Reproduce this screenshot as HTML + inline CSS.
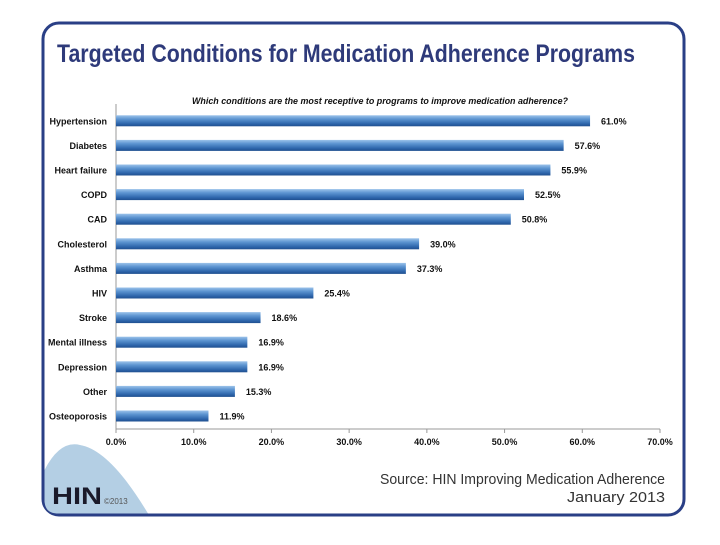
<!DOCTYPE html>
<html><head><meta charset="utf-8"><style>
body{margin:0;background:#fff;width:720px;height:540px;overflow:hidden;font-family:"Liberation Sans",sans-serif}
</style></head><body>
<svg width="720" height="540">
<defs>
<linearGradient id="bg" x1="0" y1="0" x2="0" y2="1">
<stop offset="0" stop-color="#9cc3ea"/><stop offset="0.35" stop-color="#5b93d0"/><stop offset="0.75" stop-color="#2f67ad"/><stop offset="1" stop-color="#1f4f8f"/>
</linearGradient>
</defs>
<rect x="43" y="23" width="641" height="492" rx="16" fill="#fff" stroke="#2a3f86" stroke-width="3"/>
<path d="M44.5,470 Q60,440 80,445 Q110,450 148,513.5 L58,513.5 Q44.5,513.5 44.5,500 Z" fill="#b4cfe4"/>
<text x="52" y="504" font-size="24" font-weight="bold" fill="#1a1a2a" textLength="50" lengthAdjust="spacingAndGlyphs">HIN</text>
<text x="104" y="504" font-size="8" fill="#555">©2013</text>
<text x="57" y="62" font-size="25" font-weight="bold" fill="#2e3a7a" textLength="578" lengthAdjust="spacingAndGlyphs">Targeted Conditions for Medication Adherence Programs</text>
<text x="380" y="104" font-size="9" font-weight="bold" font-style="italic" text-anchor="middle" fill="#111" textLength="376" lengthAdjust="spacingAndGlyphs">Which conditions are the most receptive to programs to improve medication adherence?</text>
<text x="665" y="484" font-size="15" fill="#333" text-anchor="end" textLength="285" lengthAdjust="spacingAndGlyphs">Source: HIN Improving Medication Adherence</text>
<text x="665" y="502" font-size="15" fill="#333" text-anchor="end" textLength="98" lengthAdjust="spacingAndGlyphs">January 2013</text>
<g id="plot"></g>
</svg>
<script>
const categories=["Hypertension","Diabetes","Heart failure","COPD","CAD","Cholesterol","Asthma","HIV","Stroke","Mental illness","Depression","Other","Osteoporosis"];
const values=[61.0,57.6,55.9,52.5,50.8,39.0,37.3,25.4,18.6,16.9,16.9,15.3,11.9];
const ticks=[0,10,20,30,40,50,60,70];
const ns="http://www.w3.org/2000/svg";
const g=document.getElementById('plot');
const x0=116,x1=660,xmax=70,yTop=109,rowH=24.6,axisY=429;
const xs=v=>x0+(x1-x0)*v/xmax;
const yc=i=>yTop+rowH*(i+0.5);
function mk(t,a){const e=document.createElementNS(ns,t);for(const k in a)e.setAttribute(k,a[k]);g.appendChild(e);return e;}
let ax=mk('line',{x1:x0,y1:yTop-5,x2:x0,y2:axisY,stroke:'#999','stroke-width':1});


let bx=mk('line',{x1:x0,y1:axisY,x2:x1,y2:axisY,stroke:'#999','stroke-width':1});


ticks.forEach(t=>{
 let tl=mk('line',{x1:xs(t),y1:axisY,x2:xs(t),y2:axisY+4,stroke:'#999'});
 
 
 let tx=mk('text',{x:xs(t),y:axisY+16,'font-size':9,'font-weight':'bold','text-anchor':'middle',fill:'#111'});
 tx.textContent=t.toFixed(1)+'%';
 
 
});
categories.forEach((c,i)=>{
 const y=yc(i);
 let r=mk('rect',{x:x0,y:y-6,width:xs(values[i])-x0,height:11,fill:'url(#bg)'});
 
 
 let l=mk('text',{x:x0-9,y:y+3,'font-size':9,'font-weight':'bold','text-anchor':'end',fill:'#111'});
 l.textContent=c;
 
 
 let v=mk('text',{x:xs(values[i])+11,y:y+3,'font-size':9,'font-weight':'bold',fill:'#111'});
 v.textContent=values[i].toFixed(1)+'%';
 
 
});
</script>
</body></html>
